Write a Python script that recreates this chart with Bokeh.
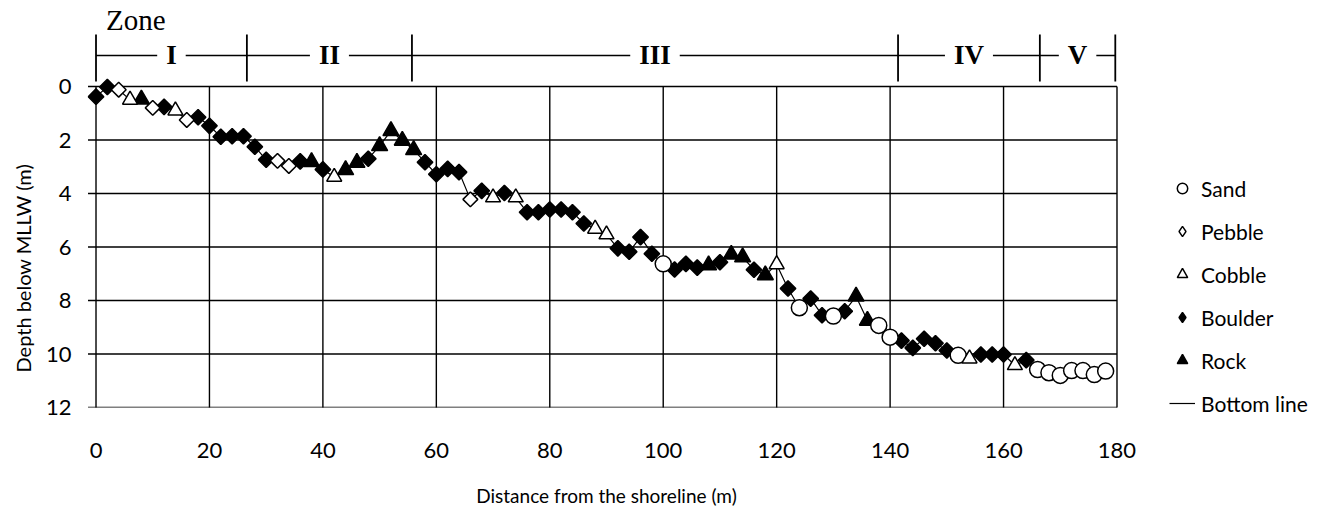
import math
from bokeh.plotting import figure
from bokeh.models import Range1d, FixedTicker, Legend, LegendItem, ColumnDataSource, Title
from bokeh.core.properties import value
from bokeh.embed import file_html
from bokeh.resources import INLINE

# ---------------- data ----------------
distance = list(range(0, 180, 2))
depth = [
    0.38, 0.02, 0.12, 0.50, 0.48, 0.80, 0.76, 0.90, 1.25, 1.15,
    1.47, 1.88, 1.86, 1.86, 2.25, 2.74, 2.78, 2.97, 2.80, 2.82,
    3.10, 3.38, 3.12, 2.85, 2.70, 2.22, 1.66, 2.02, 2.37, 2.83,
    3.28, 3.08, 3.20, 4.22, 3.90, 4.15, 3.98, 4.15, 4.70, 4.70,
    4.60, 4.60, 4.70, 5.12, 5.32, 5.53, 6.05, 6.18, 5.63, 6.25,
    6.63, 6.84, 6.63, 6.77, 6.68, 6.57, 6.28, 6.38, 6.85, 7.05,
    6.65, 7.55, 8.27, 7.93, 8.55, 8.58, 8.40, 7.85, 8.75, 8.93,
    9.37, 9.50, 9.77, 9.43, 9.60, 9.87, 10.05, 10.17, 10.02, 10.02,
    10.02, 10.42, 10.23, 10.58, 10.70, 10.80, 10.62, 10.62, 10.77, 10.64,
]
material_code = (
    "B B P C R P B C P B "
    "B B B B B B P P B R "
    "B C R R B R R R R B "
    "B B B P B C B C B B "
    "B B B B C C B B B B "
    "S B B B R B R R B R "
    "C B S B B S B R R S "
    "S B B B B B S C B B "
    "B C B S S S S S S S"
).split()
material_names = {"S": "Sand", "P": "Pebble", "C": "Cobble", "B": "Boulder", "R": "Rock"}
material = [material_names[c] for c in material_code]
legend_order = ["Sand", "Pebble", "Cobble", "Boulder", "Rock"]

zone_names = ["I", "II", "III", "IV", "V"]
zone_edges = [0, 26.6, 55.7, 141.4, 166.4, 179.7]

x_ticks = list(range(0, 181, 20))
y_ticks = list(range(0, 13, 2))

x_title = "Distance from the shoreline (m)"
y_title = "Depth below MLLW (m)"

# ---------------- geometry ----------------
PX_X = 1021 / 180.0
PX_Y = 321 / 12.0
PAD = 1.5
TOP = -78 / PX_Y

p = figure(
    frame_width=round((180 + 2 * PAD) * PX_X),
    frame_height=round((12 - TOP) * PX_Y),
    x_range=Range1d(-PAD, 180 + PAD),
    y_range=Range1d(12, TOP),
    output_backend="svg",
    toolbar_location=None,
    min_border_left=86,
    min_border_right=212,
    min_border_top=8,
    min_border_bottom=90,
)
p.outline_line_color = None
p.grid.visible = False
p.background_fill_color = "white"
p.border_fill_color = "white"

# grid / frame lines (from tick arrays)
ytick_len = 8 / PX_X
p.segment(x0=[-ytick_len] * len(y_ticks), x1=[x_ticks[-1]] * len(y_ticks),
          y0=y_ticks, y1=y_ticks, line_color="black", line_width=1.4)
xtick_len = 5 / PX_Y
p.segment(x0=x_ticks, x1=x_ticks, y0=[y_ticks[0]] * len(x_ticks),
          y1=[y_ticks[-1] + xtick_len] * len(x_ticks), line_color="black", line_width=1.4)

# zone bar
ZL = -1.16
p.segment(x0=[zone_edges[0]], x1=[zone_edges[-1]], y0=[ZL], y1=[ZL],
          line_color="black", line_width=1.5)
p.segment(x0=zone_edges, x1=zone_edges, y0=[-1.94] * len(zone_edges),
          y1=[-0.19] * len(zone_edges), line_color="black", line_width=1.8)
mids = [(a + b) / 2 for a, b in zip(zone_edges[:-1], zone_edges[1:])]
p.text(x=mids, y=[ZL] * len(mids), text=zone_names,
       text_font=value("Liberation Serif"), text_font_style="bold",
       text_font_size="27px", text_align="center", text_baseline="middle",
       text_color="black", background_fill_color="white", padding=9)
p.text(x=[1.76], y=[-2.5], text=["Zone"], text_font=value("Liberation Serif"),
       text_font_size="29px", text_align="left", text_baseline="middle",
       text_color="black")

# bottom line
line_r = p.line(distance, depth, line_color="black", line_width=1.2)

def sub(name):
    idx = [i for i, m in enumerate(material) if m == name]
    return ColumnDataSource(dict(x=[distance[i] for i in idx], y=[depth[i] for i in idx]))

style = {
    "Sand": dict(marker="circle", size=16, fill_color="white", angle=0),
    "Pebble": dict(marker="square", size=10.5, fill_color="white", angle=math.pi / 4),
    "Cobble": dict(marker="triangle", size=15, fill_color="white", angle=0),
    "Boulder": dict(marker="square", size=11, fill_color="black", angle=math.pi / 4),
    "Rock": dict(marker="triangle", size=16, fill_color="black", angle=0),
}
renderers = {}
for name in ["Boulder", "Rock", "Sand", "Pebble", "Cobble"]:
    s = style[name]
    renderers[name] = p.scatter("x", "y", source=sub(name), marker=s["marker"], size=s["size"],
                                angle=s["angle"], fill_color=s["fill_color"],
                                line_color="black", line_width=1.5)

# legend proxies for the diamonds (legend glyphs are drawn unrotated)
proxy = {}
for name in ["Pebble", "Boulder"]:
    proxy[name] = p.scatter("x", "y", source=ColumnDataSource(dict(x=[float("nan")], y=[float("nan")])),
                            marker="diamond", size=12,
                            fill_color=style[name]["fill_color"], line_color="black",
                            line_width=1.4)

items = []
for name in legend_order:
    r = proxy.get(name, renderers[name])
    items.append(LegendItem(label=name, renderers=[r]))
items.append(LegendItem(label="Bottom line", renderers=[line_r]))

legend = Legend(items=items, location=(44, -9), padding=0, margin=0,
                border_line_color=None, background_fill_alpha=0,
                glyph_width=26, glyph_height=26, spacing=17, label_standoff=6,
                label_text_font="Lato", label_text_font_size="21px",
                label_text_color="black")
p.add_layout(legend, "right")

# axes
p.xaxis.ticker = FixedTicker(ticks=x_ticks)
p.yaxis.ticker = FixedTicker(ticks=y_ticks)
for ax in (p.xaxis, p.yaxis):
    ax.axis_line_color = None
    ax.major_tick_line_color = None
    ax.minor_tick_line_color = None
    ax.major_label_text_font = "Lato"
    ax.major_label_text_font_size = "22px"
    ax.major_label_text_color = "black"
    ax.axis_label_text_font = "Lato"
    ax.axis_label_text_font_size = "19px"
    ax.axis_label_text_font_style = "normal"
    ax.axis_label_text_color = "black"
p.xaxis.major_label_standoff = 29
p.yaxis.major_label_standoff = 10
p.xaxis.axis_label = x_title
p.xaxis.axis_label_standoff = 23

# y title, positioned along the depth scale like the reference
ytitle = Title(text=y_title, align="left", offset=35, text_font="Lato",
               text_font_size="20px", text_font_style="normal", text_color="black",
               standoff=16)
p.add_layout(ytitle, "left")

open("out.html", "w").write(file_html(p, INLINE))
